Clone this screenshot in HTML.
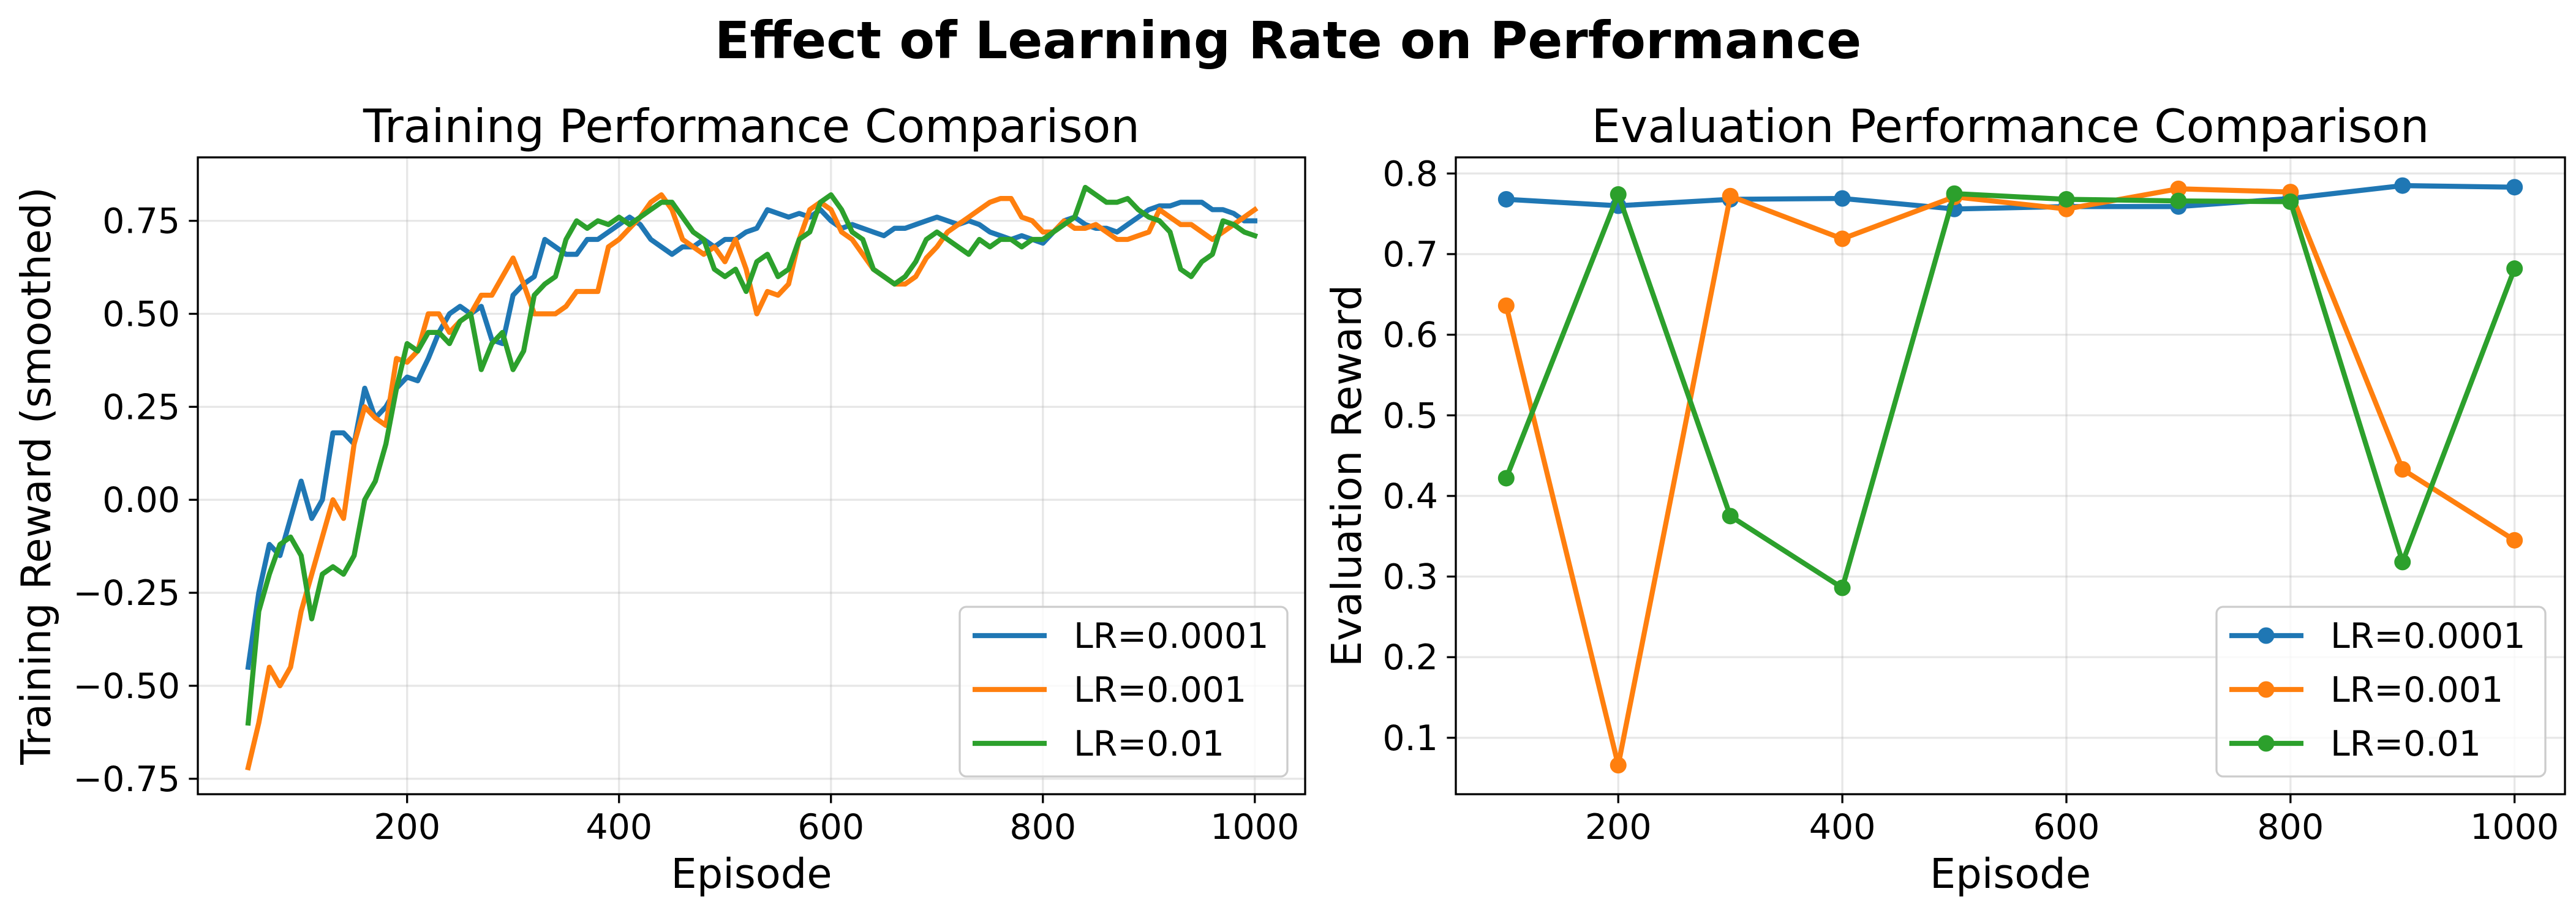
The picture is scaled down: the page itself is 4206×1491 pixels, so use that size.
<!DOCTYPE html>
<html><head><meta charset="utf-8">
<style>
html,body{margin:0;padding:0;background:#fff;}
svg{display:block;font-family:"DejaVu Sans","Liberation Sans",sans-serif;}
</style></head>
<body>
<svg id="fig" width="4206" height="1491" viewBox="0 0 4206 1491" xmlns="http://www.w3.org/2000/svg">
<rect width="4206" height="1491" fill="#fff"/>
<text x="2103" y="95" text-anchor="middle" font-size="84" font-weight="bold">Effect of Learning Rate on Performance</text>
<g id="left"></g>
<g id="right"></g>
</svg>
<script>
// ---------- data ----------
const trainEpisodes = [50,60,70,80,90,100,110,120,130,140,150,160,170,180,190,200,210,220,230,240,250,260,270,280,290,300,310,320,330,340,350,360,370,380,390,400,410,420,430,440,450,460,470,480,490,500,510,520,530,540,550,560,570,580,590,600,610,620,630,640,650,660,670,680,690,700,710,720,730,740,750,760,770,780,790,800,810,820,830,840,850,860,870,880,890,900,910,920,930,940,950,960,970,980,990,1000];
const trainLr0001 = [-0.45,-0.25,-0.12,-0.15,-0.05,0.05,-0.05,0.0,0.18,0.18,0.15,0.3,0.22,0.25,0.3,0.33,0.32,0.38,0.45,0.5,0.52,0.5,0.52,0.43,0.42,0.55,0.58,0.6,0.7,0.68,0.66,0.66,0.7,0.7,0.72,0.74,0.76,0.74,0.7,0.68,0.66,0.68,0.68,0.7,0.68,0.7,0.7,0.72,0.73,0.78,0.77,0.76,0.77,0.76,0.78,0.75,0.73,0.74,0.73,0.72,0.71,0.73,0.73,0.74,0.75,0.76,0.75,0.74,0.75,0.74,0.72,0.71,0.7,0.71,0.7,0.69,0.72,0.75,0.76,0.74,0.73,0.73,0.72,0.74,0.76,0.78,0.79,0.79,0.8,0.8,0.8,0.78,0.78,0.77,0.75,0.75];
const trainLr001 = [-0.72,-0.6,-0.45,-0.5,-0.45,-0.3,-0.2,-0.1,0.0,-0.05,0.15,0.25,0.22,0.2,0.38,0.37,0.4,0.5,0.5,0.45,0.48,0.5,0.55,0.55,0.6,0.65,0.58,0.5,0.5,0.5,0.52,0.56,0.56,0.56,0.68,0.7,0.73,0.76,0.8,0.82,0.78,0.7,0.68,0.66,0.68,0.64,0.7,0.62,0.5,0.56,0.55,0.58,0.7,0.78,0.8,0.78,0.72,0.7,0.66,0.62,0.6,0.58,0.58,0.6,0.65,0.68,0.72,0.74,0.76,0.78,0.8,0.81,0.81,0.76,0.75,0.72,0.72,0.75,0.73,0.73,0.74,0.72,0.7,0.7,0.71,0.72,0.78,0.76,0.74,0.74,0.72,0.7,0.72,0.74,0.76,0.78];
const trainLr01 = [-0.6,-0.3,-0.2,-0.12,-0.1,-0.15,-0.32,-0.2,-0.18,-0.2,-0.15,0.0,0.05,0.15,0.3,0.42,0.4,0.45,0.45,0.42,0.48,0.5,0.35,0.42,0.45,0.35,0.4,0.55,0.58,0.6,0.7,0.75,0.73,0.75,0.74,0.76,0.74,0.76,0.78,0.8,0.8,0.76,0.72,0.7,0.62,0.6,0.62,0.56,0.64,0.66,0.6,0.62,0.7,0.72,0.8,0.82,0.78,0.72,0.7,0.62,0.6,0.58,0.6,0.64,0.7,0.72,0.7,0.68,0.66,0.7,0.68,0.7,0.7,0.68,0.7,0.7,0.72,0.74,0.76,0.84,0.82,0.8,0.8,0.81,0.78,0.76,0.75,0.72,0.62,0.6,0.64,0.66,0.75,0.74,0.72,0.71];
const trainYTicks = [-0.75,-0.5,-0.25,0,0.25,0.5,0.75];
const trainYTickLabels = ["−0.75","−0.50","−0.25","0.00","0.25","0.50","0.75"];
const trainXTicks = [200,400,600,800,1000];

const evalEpisodes = [100,200,300,400,500,600,700,800,900,1000];
const evalLr0001 = [0.768,0.760,0.768,0.769,0.756,0.759,0.759,0.769,0.785,0.783];
const evalLr001 = [0.636,0.066,0.772,0.719,0.771,0.756,0.781,0.777,0.433,0.345];
const evalLr01 = [0.422,0.774,0.375,0.286,0.775,0.768,0.766,0.765,0.318,0.682];
const evalYTicks = [0.1,0.2,0.3,0.4,0.5,0.6,0.7,0.8];
const evalYTickLabels = ["0.1","0.2","0.3","0.4","0.5","0.6","0.7","0.8"];
const evalXTicks = [200,400,600,800,1000];

const seriesNames = ["LR=0.0001","LR=0.001","LR=0.01"];
const colors = ["#1f77b4","#ff7f0e","#2ca02c"];

const NS = "http://www.w3.org/2000/svg";
function mk(parent, tag, attrs, text){
  const e = document.createElementNS(NS, tag);
  for (const k in attrs) e.setAttribute(k, attrs[k]);
  if (text !== undefined) e.textContent = text;
  parent.appendChild(e);
  return e;
}

function drawPanel(g, cfg){
  const {L,R,T,B,xmin,xmax,ymin,ymax} = cfg;
  const sx = v => L + (v - xmin) / (xmax - xmin) * (R - L);
  const sy = v => B - (v - ymin) / (ymax - ymin) * (B - T);
  cfg.xTicks.forEach(t => {
    const l = mk(g,'line',{x1:sx(t),x2:sx(t),y1:T,y2:B,stroke:'#b0b0b0','stroke-opacity':0.3,'stroke-width':3.3});
    
    
  });
  cfg.yTicks.forEach(t => {
    const l = mk(g,'line',{x1:L,x2:R,y1:sy(t),y2:sy(t),stroke:'#b0b0b0','stroke-opacity':0.3,'stroke-width':3.3});
    
    
  });
  cfg.series.forEach((s, i) => {
    const pts = cfg.xs.map((x, j) => sx(x).toFixed(1) + ',' + sy(s[j]).toFixed(1)).join(' ');
    const pl = mk(g,'polyline',{points:pts,fill:'none',stroke:colors[i],'stroke-width':8.3,'stroke-linejoin':'round','stroke-linecap':'square'});
    
    
    if (cfg.markers){
      cfg.xs.forEach((x, j) => {
        const c = mk(g,'circle',{cx:sx(x),cy:sy(s[j]),r:13.5,fill:colors[i]});
        
        
      });
    }
  });
  const fr = mk(g,'rect',{x:L,y:T,width:R-L,height:B-T,fill:'none',stroke:'#000','stroke-width':3.3});
  
  
  cfg.xTicks.forEach(t => {
    mk(g,'line',{x1:sx(t),x2:sx(t),y1:B,y2:B+14.6,stroke:'#000','stroke-width':3.3});
    const tx = mk(g,'text',{x:sx(t),y:B+73,'text-anchor':'middle','font-size':57}, String(t));
    
    
  });
  cfg.yTicks.forEach((t, k) => {
    mk(g,'line',{x1:L-14.6,x2:L,y1:sy(t),y2:sy(t),stroke:'#000','stroke-width':3.3});
    const tx = mk(g,'text',{x:L-29,y:sy(t)+20,'text-anchor':'end','font-size':57}, cfg.yTickLabels[k]);
    
    
  });
  const ti = mk(g,'text',{x:(L+R)/2,y:232,'text-anchor':'middle','font-size':75}, cfg.title);
  
  
  const xl = mk(g,'text',{x:(L+R)/2,y:1450,'text-anchor':'middle','font-size':67}, 'Episode');
  
  
  const yl = mk(g,'text',{x:0,y:0,'text-anchor':'middle','font-size':67,transform:`translate(${cfg.ylx},${(T+B)/2}) rotate(-90)`}, cfg.ylabel);
  
  
  const lg = mk(g,'g',{});
  
  
  mk(lg,'rect',{x:cfg.lgx,y:991,width:cfg.lgw,height:277,rx:11,fill:'#fff','fill-opacity':0.8,stroke:'#cccccc','stroke-width':3.3});
  seriesNames.forEach((n, i) => {
    const cy = 1038 + i * 88;
    const e = mk(lg,'g',{});
    
    
    mk(e,'line',{x1:cfg.lgx+21,x2:cfg.lgx+142,y1:cy,y2:cy,stroke:colors[i],'stroke-width':8.3});
    if (cfg.markers) mk(e,'circle',{cx:cfg.lgx+81,cy:cy,r:13.5,fill:colors[i]});
    mk(e,'text',{x:cfg.lgx+186,y:cy+20,'font-size':57}, n);
  });
}

drawPanel(document.getElementById('left'), {
  L:323,R:2131,T:257,B:1297,xmin:2.5,xmax:1047.5,ymin:-0.7915,ymax:0.9206,
  xs:trainEpisodes, series:[trainLr0001,trainLr001,trainLr01], markers:false,
  xTicks:trainXTicks, yTicks:trainYTicks, yTickLabels:trainYTickLabels,
  title:'Training Performance Comparison', ylabel:'Training Reward (smoothed)', ylx:82,
  lgx:1567, lgw:535
});
drawPanel(document.getElementById('right'), {
  L:2377,R:4188,T:257,B:1297,xmin:55,xmax:1045,ymin:0.030,ymax:0.820,
  xs:evalEpisodes, series:[evalLr0001,evalLr001,evalLr01], markers:true,
  xTicks:evalXTicks, yTicks:evalYTicks, yTickLabels:evalYTickLabels,
  title:'Evaluation Performance Comparison', ylabel:'Evaluation Reward', ylx:2222,
  lgx:3619, lgw:537
});
</script>
</body></html>
